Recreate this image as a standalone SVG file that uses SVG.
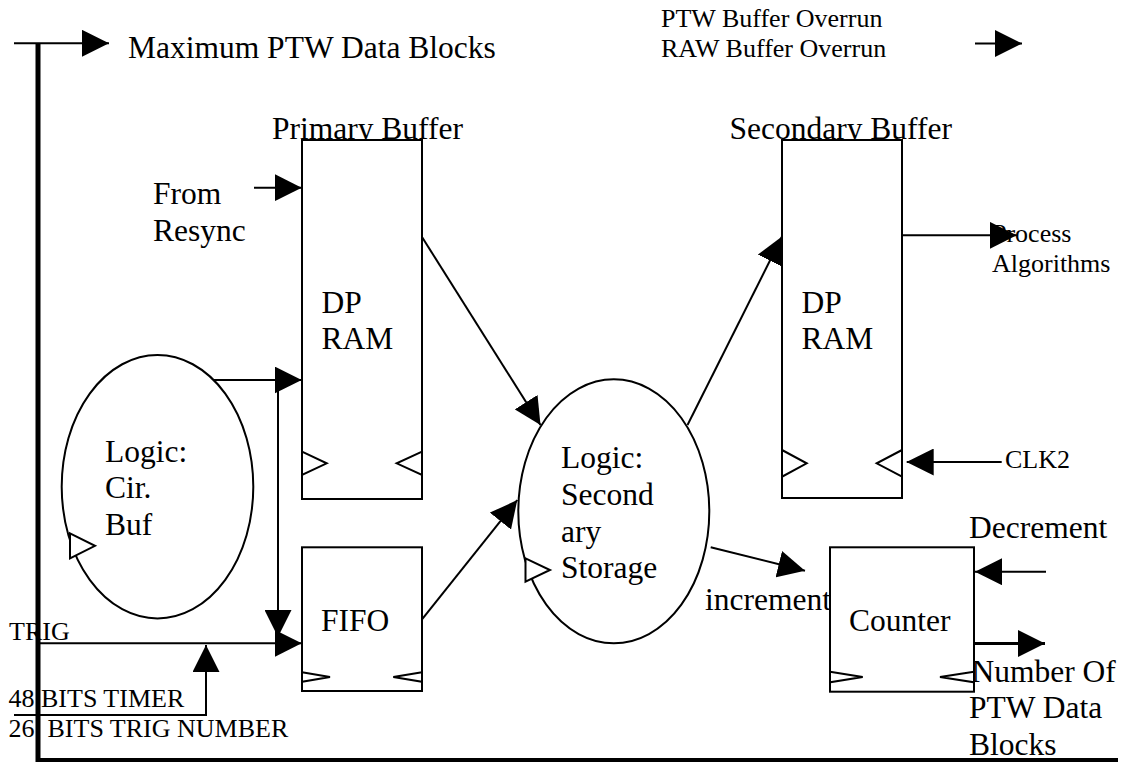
<svg xmlns="http://www.w3.org/2000/svg" width="1123" height="763" viewBox="0 0 1123 763">
<style>
.t { font-family: "Liberation Serif", "Times New Roman", serif; fill: #000; }
.L { font-size: 31.5px; }
.S { font-size: 26px; }
.box { fill: #fff; stroke: #000; stroke-width: 2; }
.clk { fill: #fff; stroke: #000; stroke-width: 2; stroke-linejoin: miter; }
.w { fill: none; stroke: #000; stroke-width: 2; }
.arr { marker-end: url(#ah); }
</style>
<defs>
<marker id="ah" markerUnits="userSpaceOnUse" markerWidth="27" markerHeight="27" viewBox="0 0 27 27" refX="27" refY="13.5" orient="auto">
<path d="M0,0 L27,13.5 L0,27 z" fill="#000"/>
</marker>
</defs>
<rect width="1123" height="763" fill="#fff"/>

<g id="labels">
<text class="t L" x="128" y="58">Maximum PTW Data Blocks</text>
<text class="t S" x="661" y="26.7">PTW Buffer Overrun</text>
<text class="t S" x="661" y="56.7">RAW Buffer Overrun</text>
<text class="t L" x="272" y="138.5">Primary Buffer</text>
<text class="t L" x="729.5" y="138.5">Secondary Buffer</text>
<text class="t L" x="153" y="204">From</text>
<text class="t L" x="153" y="241">Resync</text>
<text class="t S" x="992" y="241.7">Process</text>
<text class="t S" x="992" y="271.7">Algorithms</text>
<text class="t S" x="1005" y="468.3">CLK2</text>
<text class="t L" x="969" y="538.3">Decrement</text>
<text class="t L" x="705" y="610">increment</text>
<text class="t L" x="971.5" y="681.7">Number Of</text>
<text class="t L" x="969" y="718.3">PTW Data</text>
<text class="t L" x="969" y="755">Blocks</text>
<text class="t S" x="9" y="640">TRIG</text>
<text class="t S" x="8.5" y="706.7">48 BITS TIMER</text>
<text class="t S" x="8.5" y="736.7" xml:space="preserve">26  BITS TRIG NUMBER</text>
</g>

<g id="primary-buffer">
<rect class="box" x="302" y="140" width="120" height="359"/>
<polygon class="clk" points="302,451.7 326.7,463.3 302,475"/>
<polygon class="clk" points="422,451.7 396.7,463.3 422,475"/>
<text class="t L" x="321.5" y="312.7">DP</text>
<text class="t L" x="321.5" y="348.7">RAM</text>
</g>

<g id="secondary-buffer">
<rect class="box" x="782" y="140" width="120" height="358"/>
<polygon class="clk" points="782,450 806.7,463.3 782,476.7"/>
<polygon class="clk" points="902,450 876.7,463.3 902,476.7"/>
<text class="t L" x="801.5" y="313.3">DP</text>
<text class="t L" x="801.5" y="349">RAM</text>
</g>

<g id="fifo">
<rect class="box" x="302" y="547.3" width="120" height="143.7"/>
<polygon class="clk" points="302,672.3 330,677 302,681.7"/>
<polygon class="clk" points="422,672.3 393.3,677 422,681.7"/>
<text class="t L" x="321" y="630.7">FIFO</text>
</g>

<g id="counter">
<rect class="box" x="830" y="547.3" width="144" height="144.4"/>
<polygon class="clk" points="830,671.7 862.7,677 830,682.3"/>
<polygon class="clk" points="974,671.7 940,677 974,682.3"/>
<text class="t L" x="849" y="630.7">Counter</text>
</g>

<g id="logic-cir-buf">
<ellipse class="box" cx="157.5" cy="486.7" rx="95.8" ry="131.7"/>
<polygon class="clk" points="70,533.3 95,545.8 70,558.3"/>
<text class="t L" x="105" y="461.7">Logic:</text>
<text class="t L" x="105" y="498.3">Cir.</text>
<text class="t L" x="105" y="535">Buf</text>
</g>

<g id="logic-secondary-storage">
<ellipse class="box" cx="613.8" cy="511.3" rx="95.5" ry="132"/>
<polygon class="clk" points="525.5,558.3 550,570 525.5,581.7"/>
<text class="t L" x="561" y="468.3">Logic:</text>
<text class="t L" x="561" y="505">Second</text>
<text class="t L" x="561" y="541.7">ary</text>
<text class="t L" x="561" y="578.3">Storage</text>
</g>

<g id="connectors">
<line x1="38" y1="43" x2="38" y2="762" stroke="#000" stroke-width="5"/>
<line x1="36" y1="760" x2="1118" y2="760" stroke="#000" stroke-width="4"/>
<line class="w arr" x1="14" y1="43.3" x2="109" y2="43.3"/>
<line class="w arr" x1="975" y1="43.5" x2="1022" y2="43.5"/>
<line class="w arr" x1="254" y1="187.7" x2="301.7" y2="187.7"/>
<line class="w arr" x1="213.3" y1="380" x2="301.7" y2="380"/>
<line class="w arr" x1="278" y1="380" x2="278" y2="637"/>
<line class="w arr" x1="38" y1="643.3" x2="301.7" y2="643.3"/>
<polyline class="w arr" points="14,715 206,715 206,645"/>
<line class="w arr" x1="422" y1="237" x2="540.5" y2="425"/>
<line class="w arr" x1="422" y1="619.3" x2="517.3" y2="500"/>
<line class="w arr" x1="687.5" y1="425" x2="782" y2="236.5"/>
<line class="w arr" x1="902" y1="235.3" x2="1016.7" y2="235.3"/>
<line class="w arr" x1="1001.7" y1="462" x2="906.7" y2="462"/>
<line class="w arr" x1="710.7" y1="547.3" x2="805" y2="570.7"/>
<line class="w arr" x1="1046" y1="571.7" x2="975" y2="571.7"/>
<line class="arr" x1="974" y1="643.5" x2="1045" y2="643.5" stroke="#000" stroke-width="3"/>
</g>
</svg>
